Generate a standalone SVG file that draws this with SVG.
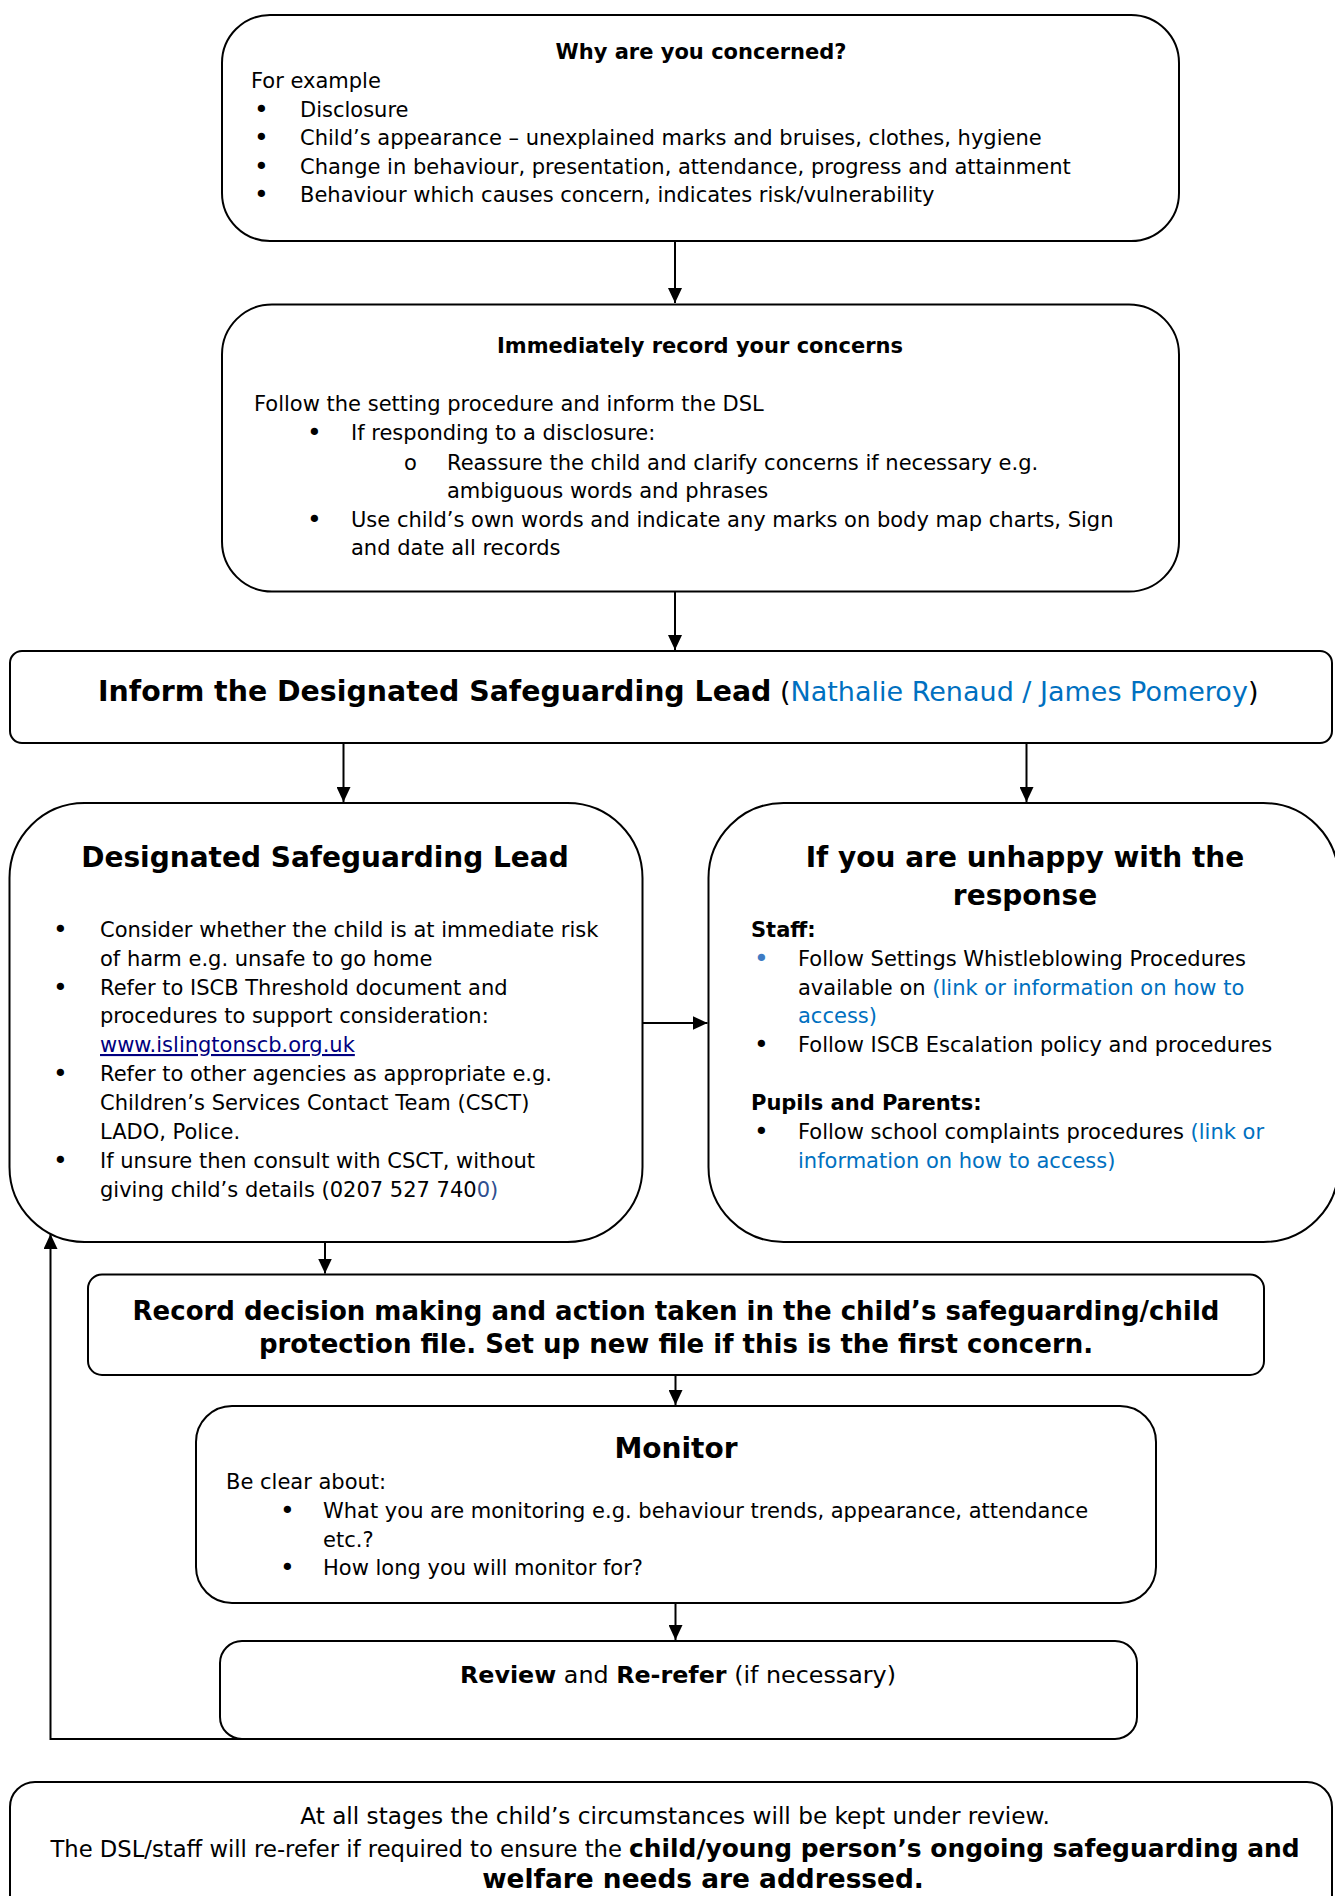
<svg xmlns="http://www.w3.org/2000/svg" width="1335" height="1896" viewBox="0 0 1335 1896">
<style>
  .box { fill: #ffffff; stroke: #000000; stroke-width: 2; }
  .t { font-family: "DejaVu Sans", Verdana, sans-serif; font-size: 21px; fill: #000000; }
  .b { font-weight: bold; }
  .c { text-anchor: middle; }
  .blue { fill: #0070C0; }
  .link { fill: #000080; text-decoration: underline; }
  .bul { font-size: 25px; }
  .conn { fill: none; stroke: #000000; stroke-width: 2; }
</style>
<defs>
  <marker id="arr" markerUnits="userSpaceOnUse" markerWidth="16" markerHeight="14" refX="15" refY="7" orient="auto">
    <path d="M0,0 L15,7 L0,14 Z" fill="#000000"/>
  </marker>
</defs>
<rect width="1335" height="1896" fill="#ffffff"/>

<g id="connectors">
  <path class="conn" d="M675,241 V303" marker-end="url(#arr)"/>
  <path class="conn" d="M675,591.5 V650" marker-end="url(#arr)"/>
  <path class="conn" d="M343.5,743 V802" marker-end="url(#arr)"/>
  <path class="conn" d="M1026.5,743 V802" marker-end="url(#arr)"/>
  <path class="conn" d="M642.5,1023 H707.5" marker-end="url(#arr)"/>
  <path class="conn" d="M325,1242 V1273.5" marker-end="url(#arr)"/>
  <path class="conn" d="M675.5,1375 V1405" marker-end="url(#arr)"/>
  <path class="conn" d="M675.5,1602.5 V1640" marker-end="url(#arr)"/>
  <path class="conn" d="M675,1739 H50.5 V1234" marker-end="url(#arr)"/>
</g>

<g id="why-concerned">
  <rect class="box" x="222" y="15" width="957" height="226" rx="48"/>
  <text class="t b c" x="701" y="59">Why are you concerned?</text>
  <text class="t" x="251" y="88">For example</text>
  <text class="t bul" x="254" y="117.5">•</text><text class="t" x="300" y="116.5">Disclosure</text>
  <text class="t bul" x="254" y="146">•</text><text class="t" x="300" y="145">Child’s appearance – unexplained marks and bruises, clothes, hygiene</text>
  <text class="t bul" x="254" y="174.5">•</text><text class="t" x="300" y="173.5">Change in behaviour, presentation, attendance, progress and attainment</text>
  <text class="t bul" x="254" y="203">•</text><text class="t" x="300" y="202">Behaviour which causes concern, indicates risk/vulnerability</text>
</g>

<g id="record-concerns">
  <rect class="box" x="222" y="304.5" width="957" height="287" rx="50"/>
  <text class="t b c" x="700" y="353">Immediately record your concerns</text>
  <text class="t" x="254" y="411">Follow the setting procedure and inform the DSL</text>
  <text class="t bul" x="307" y="441">•</text><text class="t" x="351" y="440">If responding to a disclosure:</text>
  <text class="t" x="404" y="470">o</text><text class="t" x="447" y="470">Reassure the child and clarify concerns if necessary e.g.</text>
  <text class="t" x="447" y="498">ambiguous words and phrases</text>
  <text class="t bul" x="307" y="528">•</text><text class="t" x="351" y="527">Use child’s own words and indicate any marks on body map charts, Sign</text>
  <text class="t" x="351" y="555">and date all records</text>
</g>

<g id="inform-dsl">
  <rect class="box" x="10" y="651" width="1322" height="92" rx="12"/>
  <text class="t" x="98" y="701"><tspan class="b" font-size="28.4">Inform the Designated Safeguarding Lead</tspan><tspan font-size="27"> (</tspan><tspan class="blue" font-size="27">Nathalie Renaud / James Pomeroy</tspan><tspan font-size="27">)</tspan></text>
</g>

<g id="dsl">
  <rect class="box" x="9.5" y="803" width="633" height="439" rx="75"/>
  <text class="t b c" x="325" y="867" style="font-size:28px">Designated Safeguarding Lead</text>
  <text class="t bul" x="53" y="938">•</text><text class="t" x="100" y="937">Consider whether the child is at immediate risk</text>
  <text class="t" x="100" y="966">of harm e.g. unsafe to go home</text>
  <text class="t bul" x="53" y="995.5">•</text><text class="t" x="100" y="994.5">Refer to ISCB Threshold document and</text>
  <text class="t" x="100" y="1023">procedures to support consideration:</text>
  <text class="t link" x="100" y="1052">www.islingtonscb.org.uk</text>
  <text class="t bul" x="53" y="1082">•</text><text class="t" x="100" y="1081">Refer to other agencies as appropriate e.g.</text>
  <text class="t" x="100" y="1110">Children’s Services Contact Team (CSCT)</text>
  <text class="t" x="100" y="1139">LADO, Police.</text>
  <text class="t bul" x="53" y="1169">•</text><text class="t" x="100" y="1168">If unsure then consult with CSCT, without</text>
  <text class="t" x="100" y="1197">giving child’s details (0207 527 740<tspan fill="#2F4F8F">0)</tspan></text>
</g>

<g id="unhappy">
  <rect class="box" x="708.5" y="803" width="630" height="439" rx="75"/>
  <text class="t b c" x="1025" y="867" style="font-size:28px">If you are unhappy with the</text>
  <text class="t b c" x="1025" y="905" style="font-size:28px">response</text>
  <text class="t b" x="751" y="937">Staff:</text>
  <text class="t bul" x="754" y="967" style="fill:#3E7BC4">•</text><text class="t" x="798" y="966">Follow Settings Whistleblowing Procedures</text>
  <text class="t" x="798" y="994.5">available on <tspan class="blue">(link or information on how to</tspan></text>
  <text class="t blue" x="798" y="1023">access)</text>
  <text class="t bul" x="754" y="1053">•</text><text class="t" x="798" y="1052">Follow ISCB Escalation policy and procedures</text>
  <text class="t b" x="751" y="1110">Pupils and Parents:</text>
  <text class="t bul" x="754" y="1140">•</text><text class="t" x="798" y="1139">Follow school complaints procedures <tspan class="blue">(link or</tspan></text>
  <text class="t blue" x="798" y="1168">information on how to access)</text>
</g>

<g id="record-decision">
  <rect class="box" x="88" y="1274.5" width="1176" height="100.5" rx="14"/>
  <text class="t b c" x="676" y="1320" style="font-size:26px">Record decision making and action taken in the child’s safeguarding/child</text>
  <text class="t b c" x="676" y="1353" style="font-size:26px">protection file. Set up new file if this is the first concern.</text>
</g>

<g id="monitor">
  <rect class="box" x="196" y="1406" width="960" height="197" rx="36"/>
  <text class="t b c" x="676" y="1458" style="font-size:28px">Monitor</text>
  <text class="t" x="226" y="1489">Be clear about:</text>
  <text class="t bul" x="280" y="1519">•</text><text class="t" x="323" y="1518">What you are monitoring e.g. behaviour trends, appearance, attendance</text>
  <text class="t" x="323" y="1547">etc.?</text>
  <text class="t bul" x="280" y="1576">•</text><text class="t" x="323" y="1575">How long you will monitor for?</text>
</g>

<g id="review">
  <rect class="box" x="220" y="1641" width="917" height="98" rx="22"/>
  <text class="t c" x="678" y="1683" style="font-size:23.8px"><tspan class="b">Review</tspan> and <tspan class="b">Re-refer</tspan> (if necessary)</text>
</g>

<g id="ongoing-review">
  <rect class="box" x="10" y="1782" width="1322" height="140" rx="25"/>
  <text class="t c" x="675" y="1824" style="font-size:23.2px">At all stages the child’s circumstances will be kept under review.</text>
  <text class="t c" x="675" y="1857" style="font-size:22.7px">The DSL/staff will re-refer if required to ensure the <tspan class="b" style="font-size:24.9px">child/young person’s ongoing safeguarding and</tspan></text>
  <text class="t b c" x="703" y="1887.5" style="font-size:26.4px">welfare needs are addressed.</text>
</g>
</svg>
